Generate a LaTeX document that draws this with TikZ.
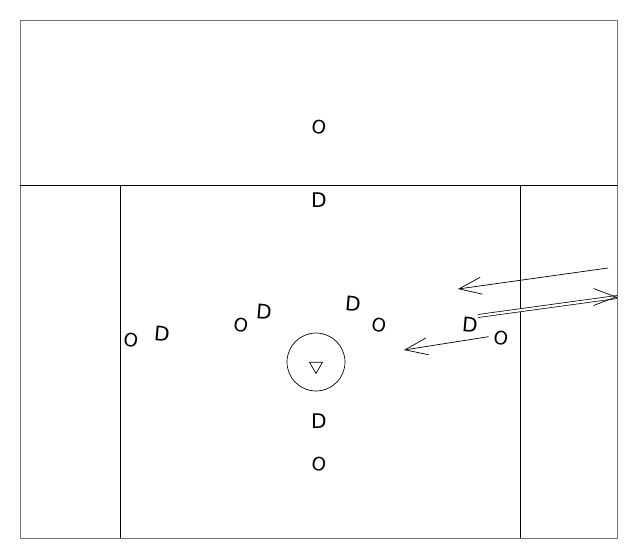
\documentclass[tikz,border=0pt]{standalone}
\usepackage{fontspec}
\setmainfont{DejaVu Sans}
\usetikzlibrary{arrows.meta}
\usetikzlibrary{shapes.geometric}
\usetikzlibrary{positioning}

\tikzset{
  attacker/.style={inner sep=0pt, font=\fontsize{10.5}{10.5}\selectfont, rotate=-10},
  defender/.style={inner sep=0pt, font=\fontsize{11.5}{11.5}\selectfont},
  cutLine/.style={-{Straight Barb[length=0.45cm,width=0.34cm]}, thin},
  passLine/.style={double, double distance=1.3pt, thin}
}

\begin{document}
\begin{tikzpicture}[x=0.02cm, y=-0.02cm]
    \useasboundingbox (0,0) rectangle (637,558);
    % court
    \draw[black!55] (20,20) rectangle (617,538);
    \draw (20,185) -- (617,185);
    \draw (120,185) -- (120,538);
    \draw (520,185) -- (520,538);
    % players
    \node[attacker] (topAttacker) at (319,127) {O};
    \node[defender] (topDefender) at (319,200) {D};
    \node[attacker] (leftAttacker) at (131,340) {O};
    \node[defender, rotate=-5] (leftDefender) at (162,334) {D};
    \node[attacker] (innerLeftAttacker) at (241,325) {O};
    \node[defender, rotate=-5] (innerLeftDefender) at (264,312) {D};
    \node[defender, rotate=-5] (innerRightDefender) at (353,304) {D};
    \node[attacker] (innerRightAttacker) at (379,325) {O};
    \node[defender, rotate=-5] (wingDefender) at (470,325) {D};
    \node[attacker] (wingAttacker) at (501,338) {O};
    \node[defender] (bottomDefender) at (319,421) {D};
    \node[attacker] (bottomAttacker) at (319,464) {O};
    % goalie
    \node[circle, draw, thin, minimum size=1.16cm] (crease) at (316,362) {};
    \node[regular polygon, regular polygon sides=3, shape border rotate=180, draw, thin,
          minimum size=0.3cm, inner sep=0pt] (goalie) at (316,366) {};
    % movement
    \coordinate (cutStart) at (608,268);
    \coordinate (cutEnd) at (458,289);
    \coordinate (passStart) at (478,316);
    \coordinate (passEnd) at (617,297);
    \coordinate (wingEnd) at (404,350);
    \draw[cutLine] (cutStart) -- (cutEnd);
    \draw[passLine] (passStart) -- (passEnd);
    \draw[cutLine] ([xshift=-0.02cm]passEnd) -- (passEnd);
    \draw[cutLine] (wingAttacker.west) ++(-5,0) -- (wingEnd);
\end{tikzpicture}
\end{document}
